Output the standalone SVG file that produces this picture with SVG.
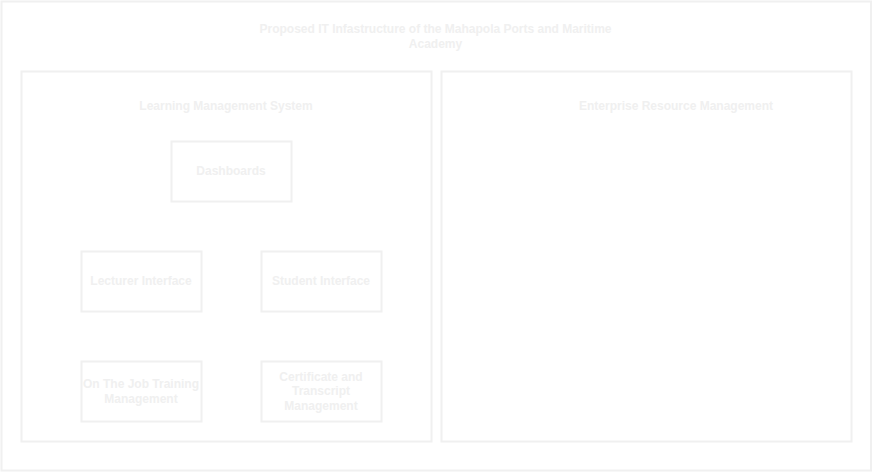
<svg xmlns="http://www.w3.org/2000/svg" width="873" height="472" viewBox="0 0 873 472">
<style>
rect{fill:#ffffff;stroke:#f0f0f0;stroke-width:2}
text{font-family:"Liberation Sans",Arial,sans-serif;font-size:12px;font-weight:bold;fill:#f0f0f0;text-anchor:middle}
</style>
<rect width="873" height="472" style="stroke:none"/>
<g id="outer"><rect x="1.5" y="1.5" width="869.5" height="469"/>
<text x="435.5" y="33">Proposed IT Infastructure of the Mahapola Ports and Maritime</text>
<text x="435.5" y="48">Academy</text></g>
<g id="lms"><rect x="21.5" y="71.5" width="410" height="370"/><text x="226" y="110">Learning Management System</text></g>
<g id="erm"><rect x="441.5" y="71.5" width="410" height="370"/><text x="676" y="110">Enterprise Resource Management</text></g>
<g id="dashboards"><rect x="171.5" y="141.5" width="120" height="60"/><text x="231" y="175">Dashboards</text></g>
<g id="lecturer"><rect x="81.5" y="251.5" width="120" height="60"/><text x="141" y="285">Lecturer Interface</text></g>
<g id="student"><rect x="261.5" y="251.5" width="120" height="60"/><text x="321" y="285">Student Interface</text></g>
<g id="ojt"><rect x="81.5" y="361.5" width="120" height="60"/><text x="141" y="388">On The Job Training</text><text x="141" y="403">Management</text></g>
<g id="cert"><rect x="261.5" y="361.5" width="120" height="60"/><text x="321" y="381">Certificate and</text><text x="321" y="395">Transcript</text><text x="321" y="410">Management</text></g>
<g id="connectors"></g>
</svg>
